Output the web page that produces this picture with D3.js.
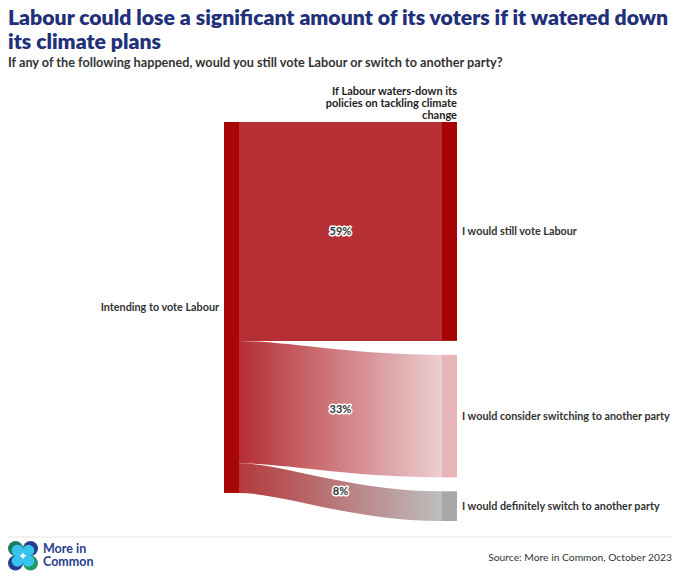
<!DOCTYPE html>
<html><head><meta charset="utf-8">
<script src="https://cdn.jsdelivr.net/npm/d3@7"></script>
<style>body{margin:0;background:#fff} text{font-family:Lato, "Open Sans", sans-serif}</style>
</head><body><svg id="c" width="680" height="582"></svg>
<script>
// ---- data ----
const sourceNode = "Intending to vote Labour";
const targets = ["I would still vote Labour", "I would consider switching to another party", "I would definitely switch to another party"];
const values = [59, 33, 8];
const valueLabels = ["59%", "33%", "8%"];
const columnTitle = ["If Labour waters-down its", "policies on tackling climate", "change"];
const titleLines = ["Labour could lose a significant amount of its voters if it watered down", "its climate plans"];
const subtitle = "If any of the following happened, would you still vote Labour or switch to another party?";
const sourceText = "Source: More in Common, October 2023";
const logoLines = ["More in", "Common"];

// ---- styles ----
const sourceColor = "#a90606";
const nodeColors = ["#a60404", "#e7b4b8", "#a8a8a8"];
const linkStart = ["#b52f34", "#b42e33", "#b4393c"];
const linkEnd = ["#b52f34", "#eccfd1", "#bebebe"];

const svg = d3.select("#c");

// titles
svg.append("g").selectAll("text").data(titleLines).join("text")
  .attr("x", 8).attr("y", (d, i) => 25 + i * 23.5)
  .attr("font-size", 21.2).attr("font-weight", 800).attr("fill", "#22307a").text(d => d);
svg.append("text").attr("x", 8).attr("y", 67).attr("font-size", 12.7).attr("font-weight", 700)
  .attr("fill", "#333").text(subtitle);

// layout
const yTop = 122, yBottom = 521, pad = 14;
const nodeW = 15;
const xL = 224, xR = 442;
const total = d3.sum(values);
const ys = d3.scaleLinear().domain([0, total]).range([0, yBottom - yTop - pad * (values.length - 1)]);

const links = [];
let sCum = 0, tY = yTop;
values.forEach((v, i) => {
  const h = ys(v);
  links.push({i, v, s0: yTop + ys(sCum), s1: yTop + ys(sCum + v), t0: tY, t1: tY + h});
  sCum += v;
  tY += h + pad;
});

const defs = svg.append("defs");
const sx = xL + nodeW, tx = xR;
links.forEach(l => {
  const g = defs.append("linearGradient").attr("id", "g" + l.i).attr("gradientUnits", "userSpaceOnUse")
    .attr("x1", sx).attr("x2", tx).attr("y1", 0).attr("y2", 0);
  g.append("stop").attr("offset", "0%").attr("stop-color", linkStart[l.i]);
  g.append("stop").attr("offset", "100%").attr("stop-color", linkEnd[l.i]);
});

const w = tx - sx;
const c1 = sx + 0.22 * w, c2 = sx + 0.55 * w;
function linkPath(l) {
  return `M${sx},${l.s0}C${c1},${l.s0} ${c2},${l.t0} ${tx},${l.t0}L${tx},${l.t1}C${c2},${l.t1} ${c1},${l.s1} ${sx},${l.s1}Z`;
}
svg.append("g").selectAll("path").data(links).join("path")
  .attr("d", linkPath).attr("fill", d => `url(#g${d.i})`);

// nodes
svg.append("rect").attr("x", xL).attr("y", yTop).attr("width", nodeW).attr("height", ys(total)).attr("fill", sourceColor);
svg.append("g").selectAll("rect").data(links).join("rect")
  .attr("x", xR).attr("y", d => d.t0).attr("width", nodeW).attr("height", d => d.t1 - d.t0)
  .attr("fill", d => nodeColors[d.i]);

// link value labels
svg.append("g").selectAll("text").data(links).join("text")
  .attr("x", (sx + tx) / 2).attr("y", d => d.i === 2 ? (d.s0 + d.s1 + d.t0 + d.t1) / 4 - 1 : (d.s0 + d.t1) / 2)
  .attr("dy", "0.35em").attr("text-anchor", "middle")
  .attr("font-size", 11).attr("font-weight", 700).attr("fill", "#333")
  .attr("stroke", "#fff").attr("stroke-width", 3).attr("stroke-linejoin", "round").attr("paint-order", "stroke")
  .text(d => valueLabels[d.i]);

// node labels
svg.append("text").attr("x", xL - 5).attr("y", yTop + ys(total) / 2).attr("dy", "0.35em")
  .attr("text-anchor", "end").attr("font-size", 10.8).attr("font-weight", 700).attr("fill", "#333").text(sourceNode);
svg.append("g").selectAll("text").data(links).join("text")
  .attr("x", xR + nodeW + 5).attr("y", d => (d.t0 + d.t1) / 2).attr("dy", "0.35em")
  .attr("font-size", 10.8).attr("font-weight", 700).attr("fill", "#333").text(d => targets[d.i]);

// column title
svg.append("g").selectAll("text").data(columnTitle).join("text")
  .attr("x", xR + nodeW).attr("y", (d, i) => 95 + i * 12).attr("text-anchor", "end")
  .attr("font-size", 11).attr("font-weight", 700).attr("fill", "#222").text(d => d);

// footer
svg.append("line").attr("x1", 8).attr("x2", 672).attr("y1", 537).attr("y2", 537).attr("stroke", "#e3e3e3");
const logo = svg.append("g");
const logoCircles = [[15.5, 548.5, "#1c7d62", 1, 1], [30.5, 548.5, "#263d8f", -1, 1], [15.5, 563, "#263d8f", 1, -1], [30.5, 563, "#22995c", -1, -1]];
logoCircles.forEach(([cx, cy, col]) => logo.append("circle").attr("cx", cx).attr("cy", cy).attr("r", 7.5).attr("fill", col));
logoCircles.forEach(([cx, cy, col, dx, dy]) => logo.append("circle").attr("cx", cx + dx * 2).attr("cy", cy + dy * 2).attr("r", 5.8).attr("fill", "#36c3ee"));
svg.append("g").selectAll("text").data(logoLines).join("text")
  .attr("x", 43).attr("y", (d, i) => 552.5 + i * 13.5).attr("font-size", 12.5).attr("font-weight", 700)
  .attr("fill", "#263d8f").text(d => d);
svg.append("text").attr("x", 672).attr("y", 561).attr("text-anchor", "end").attr("font-size", 10.3)
  .attr("fill", "#333").text(sourceText);
</script></body></html>
